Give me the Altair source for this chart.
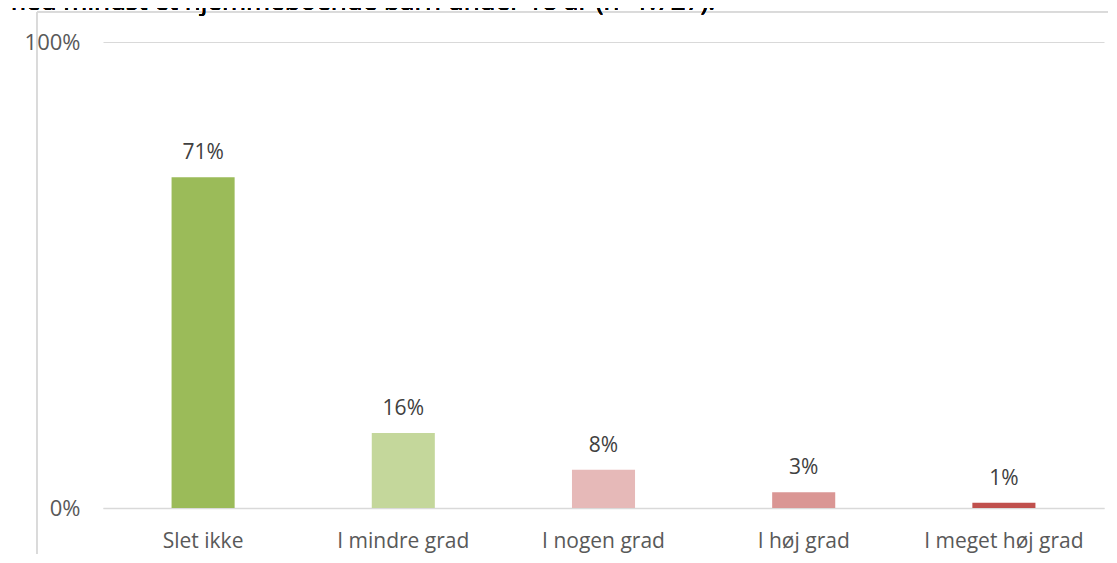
import altair as alt
import pandas as pd

categories = ["Slet ikke", "I mindre grad", "I nogen grad", "I høj grad", "I meget høj grad"]
values = [0.71, 0.161, 0.082, 0.034, 0.011]
colors = ["#9BBB59", "#C4D79B", "#E6B9B8", "#DA9694", "#C0504D"]
title_text = "med mindst et hjemmeboende barn under 18 år (n=1.727)."

df = pd.DataFrame({"cat": categories, "val": values, "zero": [0.0] * len(values)})

FONT = "Open Sans"

x = alt.X("cat:N", sort=categories, title=None,
          scale=alt.Scale(paddingInner=0.685, paddingOuter=0.3425),
          axis=alt.Axis(labelAngle=0, labelFont=FONT, labelFontSize=21, labelColor="#595959",
                        ticks=False, domain=True, domainColor="#d9d9d9", domainWidth=1.3,
                        labelPadding=22, grid=False))
y = alt.Y("val:Q", title=None,
          scale=alt.Scale(domain=[0, 1], nice=False),
          axis=alt.Axis(values=[0, 1], format=".0%", labelFont=FONT, labelFontSize=22,
                        labelColor="#595959", ticks=False, domain=False,
                        gridColor="#d9d9d9", gridWidth=1, labelPadding=23))

bars = alt.Chart(df).mark_bar().encode(
    x=x, y=y, y2="zero:Q",
    color=alt.Color("cat:N", sort=categories, scale=alt.Scale(domain=categories, range=colors), legend=None),
)

labels = alt.Chart(df).mark_text(font=FONT, fontSize=21, color="#404040", baseline="alphabetic", dy=-18).encode(
    x=alt.X("cat:N", sort=categories), y=alt.Y("val:Q"),
    text=alt.Text("val:Q", format=".0%")
)

frame_left = alt.Chart(df).mark_rule(color="#d9d9d9", strokeWidth=1).encode(
    x=alt.value(-66), y=alt.value(-30), y2=alt.value(520)
)
frame_top = alt.Chart(df).mark_rule(color="#d9d9d9", strokeWidth=1).encode(
    x=alt.value(-66), x2=alt.value(1010), y=alt.value(-30)
)
title = alt.Chart(df).mark_text(font=FONT, fontSize=26, color="#000000", align="left",
                                baseline="alphabetic").encode(
    x=alt.value(-101), y=alt.value(-32), text=alt.value(title_text)
)

chart = alt.layer(frame_left, frame_top, title, bars, labels).properties(
    width=1001, height=466,
    background="white",
    autosize=alt.AutoSizeParams(type="none"),
    padding={"left": 95, "top": 34, "right": 4, "bottom": 46},
).configure_view(strokeWidth=0, stroke="transparent")

chart.save("out.html", embed_options={"renderer": "svg", "actions": False})
